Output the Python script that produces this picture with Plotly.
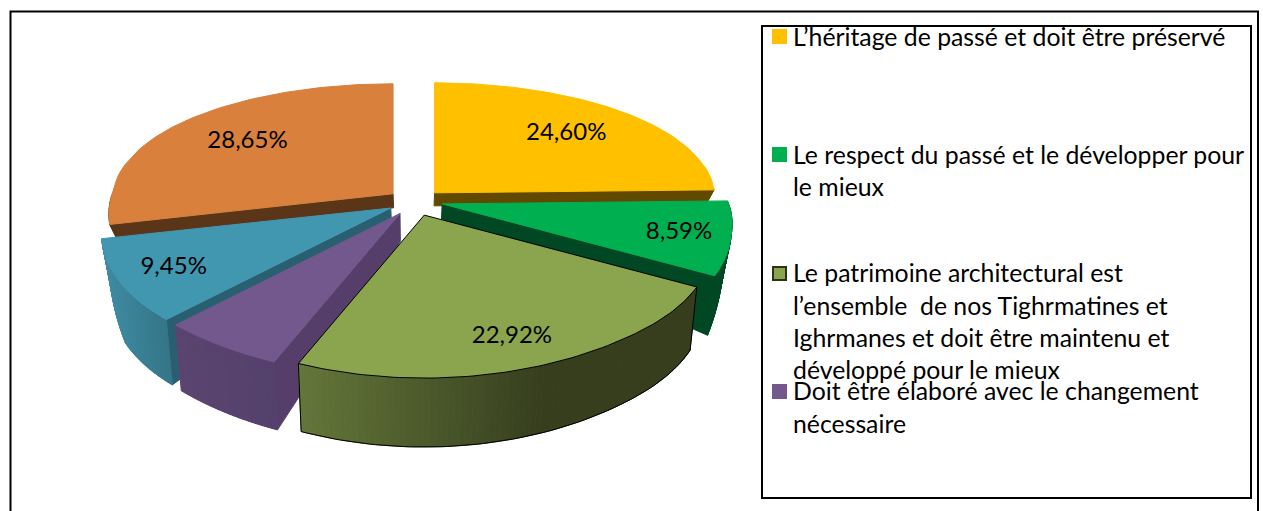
import numpy as np
import plotly.graph_objects as go

# ---------- data ----------
categories = [
    "L’héritage de passé et doit être préservé",
    "Le respect du passé et le développer pour le mieux",
    "Le patrimoine architectural est l’ensemble de nos Tighrmatines et Ighrmanes et doit être maintenu et développé pour le mieux",
    "Doit être élaboré avec le changement nécessaire",
    "Autre (bleu)",
    "Autre (orange)",
]
values = [24.60, 8.59, 22.92, 5.79, 9.45, 28.65]
value_labels = ["24,60%", "8,59%", "22,92%", "", "9,45%", "28,65%"]
top_colors = ["#FFC000", "#00B050", "#8AA54D", "#72588C", "#4197B0", "#D8803C"]
face_colors = ["#614A00", "#004723", "#38401F", "#553F6A", "#295F70", "#5A3517"]
wall_left = ["#614A00", "#004723", "#64773A", "#5A4570", "#3F8CA3", "#5A3517"]
wall_right = ["#614A00", "#004A25", "#363E1E", "#54406C", "#347587", "#5A3517"]
legend_lines = [
    ["L’héritage de passé et doit être préservé"],
    ["Le respect du passé et le développer pour", "le mieux"],
    ["Le patrimoine architectural est", "l’ensemble  de nos Tighrmatines et",
     "Ighrmanes et doit être maintenu et", "développé pour le mieux"],
    ["Doit être élaboré avec le changement", "nécessaire"],
]

# ---------- drawing settings ----------
CX, CY = 415, 200
COS_T = [-1, -0.925, -0.73, -0.49, -0.23, 0.03, 0.3, 1]
R_T = [338, 336, 330, 313, 297, 285, 283, 283]
RY_T = [163, 160, 152, 146, 135, 118, 110, 110]
H_Y = [190, 228, 240, 280, 380]
H_V = [13, 15, 30, 63, 69]
R_SCALE = [0.98, 1.0, 1.0, 1.0, 1.0, 0.98]
APEX_H = [13, 15, 15, 28, 14, 14]
LABEL_FX = [0.68, 0.82, 0.79, 0.0, 0.80, 0.67]
LABEL_FY = [0.75, 0.90, 0.80, 0.0, 0.82, 0.76]
PERSPECTIVE = 0.024


def rim(theta, scale=1.0):
    c = np.cos(theta)
    return scale * np.interp(c, COS_T, R_T) * np.sin(theta), -np.interp(c, COS_T, RY_T) * c


def height(y):
    return np.interp(y, H_Y, H_V)


def base_x(x):
    return x - PERSPECTIVE * (x - CX)


def apex(mid):
    c = np.cos(mid)
    k = 16 if c < 0 else 10
    return CX + 28 * np.sin(mid), CY - k * c


def mix(a, b, t):
    ca = [int(a[i:i + 2], 16) for i in (1, 3, 5)]
    cb = [int(b[i:i + 2], 16) for i in (1, 3, 5)]
    return "rgb(%d,%d,%d)" % tuple(round(x + (y - x) * t) for x, y in zip(ca, cb))


fig = go.Figure()


def poly(xs, ys, fill, line=None, width=1):
    fig.add_trace(go.Scatter(
        x=list(xs), y=list(ys), mode="lines", fill="toself", fillcolor=fill,
        line=dict(color=line or fill, width=width), hoverinfo="skip", showlegend=False))


edges = np.cumsum([0] + values) / sum(values) * 2 * np.pi
label_pts = []
# back slices first, front slices over them
for i in [5, 0, 1, 4, 3, 2]:
    t0, t1 = edges[i], edges[i + 1]
    mid = (t0 + t1) / 2
    ax, ay = apex(mid)
    th = np.linspace(t0, t1, 80)
    rx, ry = rim(th, R_SCALE[i])
    px, py = ax + rx, ay + ry
    outline = "#000000" if i == 2 else None

    # cut face towards the viewer
    face_t = t1 if t1 < np.pi else (t0 if t0 > np.pi else None)
    if face_t is not None:
        fx, fy = rim(face_t, R_SCALE[i])
        tx, ty = ax + fx, ay + fy
        poly([ax, tx, base_x(tx), base_x(ax), ax],
             [ay, ty, ty + height(ty), ay + APEX_H[i], ay], face_colors[i])

    # outer wall, drawn strip by strip for the shading
    idx = np.where(np.cos(th) < 0.05)[0]
    if len(idx) > 1:
        lo, hi = px[idx].min(), px[idx].max()
        for a, b in zip(idx[:-1], idx[1:]):
            t = min(1.0, (px[a] - lo) / max(hi - lo, 1) * (1.6 if i == 2 else 1.0))
            col = mix(wall_left[i], wall_right[i], t)
            poly([px[a], px[b], base_x(px[b]), base_x(px[a]), px[a]],
                 [py[a], py[b], py[b] + height(py[b]), py[a] + height(py[a]), py[a]], col)
        if i == 2:
            j0, j1 = idx[0], idx[-1]
            fig.add_trace(go.Scatter(
                x=list(base_x(px[idx])) + [None, px[j0], base_x(px[j0]), None, px[j1], base_x(px[j1])],
                y=list(py[idx] + height(py[idx]))
                  + [None, py[j0], py[j0] + height(py[j0]), None, py[j1], py[j1] + height(py[j1])],
                mode="lines", line=dict(color="#000000", width=1), hoverinfo="skip", showlegend=False))

    # top of the slice
    poly([ax, *px, ax], [ay, *py, ay], top_colors[i], outline)

    if value_labels[i]:
        lx, ly = rim(mid, R_SCALE[i])
        label_pts.append((ax + LABEL_FX[i] * lx, ay + LABEL_FY[i] * ly, value_labels[i]))

fig.add_trace(go.Scatter(
    x=[p[0] for p in label_pts], y=[p[1] for p in label_pts], text=[p[2] for p in label_pts],
    mode="text", textposition="middle center",
    textfont=dict(family="Lato", size=24, color="#000000"), hoverinfo="skip", showlegend=False))

# ---------- legend ----------
KEY_Y = [36.5, 154.5, 273.5, 391.5]
LINE_Y = [[36], [154, 186], [272, 305, 337, 369], [390, 423]]
key_x, text_x = 779.5, 791
for k, lines in enumerate(legend_lines):
    fig.add_trace(go.Scatter(
        x=[key_x], y=[KEY_Y[k]], mode="markers", hoverinfo="skip", showlegend=False,
        marker=dict(symbol="square", size=15 if k != 2 else 13, color=top_colors[k],
                    line=dict(color="#2B3316", width=2 if k == 2 else 0))))
    for line, y in zip(lines, LINE_Y[k]):
        fig.add_annotation(x=text_x, y=y, text=line, showarrow=False, xanchor="left", yanchor="middle",
                           font=dict(family="Lato", size=24.8, color="#000000"))

frame = dict(color="#000000", width=2)
fig.add_shape(type="rect", x0=762, x1=1251, y0=26, y1=498, line=frame, layer="above")
fig.add_shape(type="path", path="M 10.5 511 L 10.5 11.5 L 1258 11.5 L 1258 511", line=frame, layer="above")

fig.update_layout(
    width=1263, height=511, margin=dict(l=0, r=0, t=0, b=0),
    paper_bgcolor="#FFFFFF", plot_bgcolor="#FFFFFF", showlegend=False,
    xaxis=dict(range=[0, 1263], visible=False, fixedrange=True),
    yaxis=dict(range=[511, 0], visible=False, fixedrange=True),
)
fig.write_html("out.html", config={"displayModeBar": False},
               post_script="document.body.style.margin='0';")
